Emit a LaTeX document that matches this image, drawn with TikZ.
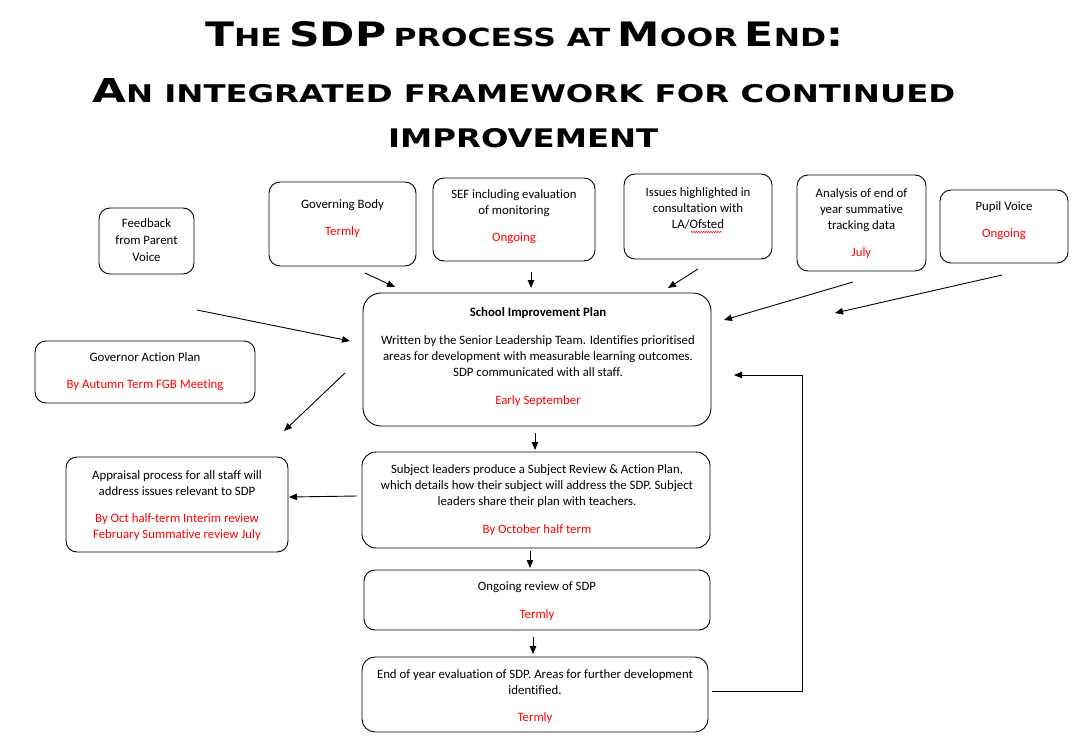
\documentclass[tikz,border=0pt]{standalone}
\usepackage{fontspec}
\usepackage{graphicx}
\setmainfont{Carlito}[Ligatures=NoCommon]
\newfontfamily\titlefont{DejaVu Sans}
\usetikzlibrary{arrows.meta,decorations.pathmorphing}
\definecolor{redtxt}{RGB}{255,0,0}
\newcommand\bigc[1]{{\fontsize{20}{24}\selectfont #1}}
\newcommand\smc[1]{{\fontsize{14.8}{18}\selectfont #1}}
\newcommand\rd[1]{\textcolor{redtxt}{#1}}
\begin{document}
\begin{tikzpicture}[x=1pt,y=-1pt,
  box/.style={draw=black, line width=0.9pt, rounded corners=11pt, inner sep=0pt},
  txt/.style={align=center, inner sep=0pt, anchor=north, font=\fontsize{12.8}{16}\selectfont},
  conn/.style={line width=0.9pt, -{Triangle[length=8pt,width=6.5pt]}},
  ttl/.style={inner sep=0pt, anchor=base west}]
\useasboundingbox[fill=white] (0,0) rectangle (1075,741);

% title
\node[ttl] (t1) at (205,46.7) {\resizebox{638pt}{25pt}{\titlefont\bfseries\bigc{T}\smc{HE} \bigc{SDP} \smc{PROCESS AT} \bigc{M}\smc{OOR} \bigc{E}\smc{ND}\bigc{:}}};
\node[ttl] (t2) at (92,102.3) {\resizebox{863pt}{24pt}{\titlefont\bfseries\bigc{A}\smc{N INTEGRATED FRAMEWORK FOR CONTINUED}}};
\node[ttl] (t3) at (388,147.3) {\resizebox{270pt}{19pt}{\titlefont\bfseries\smc{IMPROVEMENT}}};

% boxes
\node[box, minimum width=95pt,  minimum height=66pt]  (fb)  at (146.5,241) {};
\node[box, minimum width=147pt, minimum height=84pt]  (gov) at (342.5,224) {};
\node[box, minimum width=162pt, minimum height=83pt]  (sef) at (514,219.5) {};
\node[box, minimum width=148pt, minimum height=85pt]  (iss) at (698,216.5) {};
\node[box, minimum width=129pt, minimum height=96pt]  (ana) at (861.5,223) {};
\node[box, minimum width=128pt, minimum height=73pt]  (pup) at (1004,226.5) {};
\node[box, minimum width=220pt, minimum height=62pt]  (gap) at (145,372) {};
\node[box, minimum width=348pt, minimum height=133pt, rounded corners=18pt] (sip) at (537,359.5) {};
\node[box, minimum width=222pt, minimum height=95pt]  (app) at (177,504.5) {};
\node[box, minimum width=348pt, minimum height=96pt, rounded corners=14pt]  (sub) at (536,500) {};
\node[box, minimum width=346pt, minimum height=60pt]  (ong) at (537,600) {};
\node[box, minimum width=346pt, minimum height=75pt, rounded corners=13pt]  (eoy) at (535,694.5) {};

% texts
\node[txt] (fb-t)  at (146.5,218.8) {Feedback\\[1pt]from Parent\\[1pt]Voice};
\node[txt] (gov-t) at (342.5,199.8) {Governing Body\\[11pt]\rd{Termly}};
\node[txt] (sef-t) at (514,189.8) {SEF including evaluation\\of monitoring\\[11pt]\rd{Ongoing}};
\node[txt] (iss-t) at (698,187.8) {Issues highlighted in\\consultation with\\LA/Ofsted};
\node[txt] (ana-t) at (861.5,188.8) {Analysis of end of\\year summative\\tracking data\\[11pt]\rd{July}};
\node[txt] (pup-t) at (1004,201.8) {Pupil Voice\\[11pt]\rd{Ongoing}};
\node[txt] (gap-t) at (145,352.8) {Governor Action Plan\\[11pt]\rd{By Autumn Term FGB Meeting}};
\node[txt] (sip-t) at (538,307.8) {\textbf{School Improvement Plan}\\[12pt]Written by the Senior Leadership Team. Identifies prioritised\\areas for development with measurable learning outcomes.\\SDP communicated with all staff.\\[12pt]\rd{Early September}};
\node[txt] (app-t) at (177,470.8) {Appraisal process for all staff will\\address issues relevant to SDP\\[11pt]\rd{By Oct half-term Interim review}\\\rd{February Summative review July}};
\node[txt] (sub-t) at (537,464.8) {Subject leaders produce a Subject Review \& Action Plan,\\which details how their subject will address the SDP. Subject\\leaders share their plan with teachers.\\[12pt]\rd{By October half term}};
\node[txt] (ong-t) at (537,581.8) {Ongoing review of SDP\\[12pt]\rd{Termly}};
\node[txt] (eoy-t) at (535,669.8) {End of year evaluation of SDP. Areas for further development\\identified.\\[11pt]\rd{Termly}};

% spell-check underline
\draw[redtxt, line width=0.5pt, decorate, decoration={snake, amplitude=0.7pt, segment length=2.4pt}] (691,232) -- (722,232);

% arrow end points
\coordinate (a1s) at (365,273);  \coordinate (a1e) at (395,287);
\coordinate (a2s) at (531,272);  \coordinate (a2e) at (531,288);
\coordinate (a3s) at (698,269);  \coordinate (a3e) at (668,288);
\coordinate (a4s) at (853,282);  \coordinate (a4e) at (724,320);
\coordinate (a5s) at (1002,275); \coordinate (a5e) at (835,313);
\coordinate (a6s) at (197,310);  \coordinate (a6e) at (350,341);
\coordinate (a7s) at (345,373);  \coordinate (a7e) at (284,431);
\coordinate (a8s) at (535,433);  \coordinate (a8e) at (535,450);
\coordinate (a9s) at (357,496);  \coordinate (a9e) at (289,497);
\coordinate (a10s) at (530,551); \coordinate (a10e) at (530,568);
\coordinate (a11s) at (533,637); \coordinate (a11e) at (533,654);
\coordinate (l1) at (712,691); \coordinate (l2) at (802,691);
\coordinate (l3) at (802,375); \coordinate (l4) at (734,375);

\draw[conn] (a1s) -- (a1e);
\draw[conn] (a2s) -- (a2e);
\draw[conn] (a3s) -- (a3e);
\draw[conn] (a4s) -- (a4e);
\draw[conn] (a5s) -- (a5e);
\draw[conn] (a6s) -- (a6e);
\draw[conn] (a7s) -- (a7e);
\draw[conn] (a8s) -- (a8e);
\draw[conn] (a9s) -- (a9e);
\draw[conn] (a10s) -- (a10e);
\draw[conn] (a11s) -- (a11e);
\draw[conn] (l1) -- (l2) -- (l3) -- (l4);
\end{tikzpicture}
\end{document}
